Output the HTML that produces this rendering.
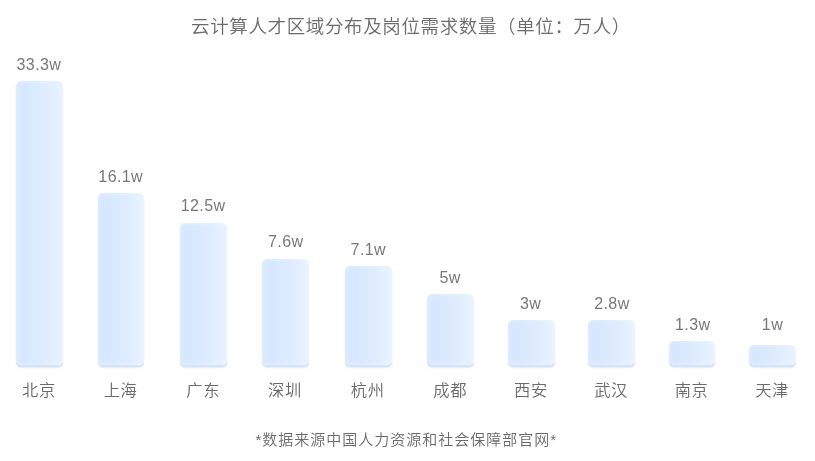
<!DOCTYPE html>
<html lang="zh-CN"><head><meta charset="utf-8"><title>云计算人才区域分布及岗位需求数量</title>
<style>
html,body{margin:0;padding:0;background:#fff;}
body{width:815px;height:461px;position:relative;overflow:hidden;font-family:"Liberation Sans","Noto Sans CJK SC",sans-serif;color:#6e6e6e;}
.title{position:absolute;left:3.5px;width:815px;top:12px;height:30px;line-height:30px;text-align:center;font-size:18.5px;letter-spacing:0.63px;font-weight:350;color:#6b6b6b;white-space:nowrap;}
.foot{position:absolute;left:-1.2px;width:815px;top:428px;height:24px;line-height:24px;text-align:center;font-size:15px;letter-spacing:1.0px;font-weight:350;color:#6b6b6b;white-space:nowrap;}
.bar{position:absolute;border-radius:5px;background:linear-gradient(90deg,#d8e8fe 0%,#d7e8fe 22%,#deecfe 60%,#e8f3ff 100%);box-shadow:inset 0 0 4px rgba(255,255,255,.42),0 2px 0 #d3e3f9,0 2.5px 1.5px rgba(195,213,242,.5);}
.val{position:absolute;width:90px;text-align:center;font-size:16px;letter-spacing:0.4px;line-height:20px;height:20px;color:#787878;white-space:nowrap;}
.lab{position:absolute;width:90px;text-align:center;font-size:16.3px;letter-spacing:0.6px;line-height:22px;height:22px;font-weight:350;color:#6a6a6a;white-space:nowrap;}
</style></head><body>
<div class="title">云计算人才区域分布及岗位需求数量（单位：万人）</div>
<div class="bar" style="left:16.2px;top:81.0px;width:46.6px;height:283.6px"></div>
<div class="val" style="left:-6.1px;top:54.9px">33.3w</div>
<div class="lab" style="left:-6.0px;top:379.0px">北京</div>
<div class="bar" style="left:97.8px;top:193.0px;width:46.6px;height:171.6px"></div>
<div class="val" style="left:75.7px;top:166.9px">16.1w</div>
<div class="lab" style="left:75.6px;top:379.0px">上海</div>
<div class="bar" style="left:180.3px;top:222.8px;width:46.8px;height:141.8px"></div>
<div class="val" style="left:158.1px;top:196.2px">12.5w</div>
<div class="lab" style="left:158.2px;top:379.0px">广东</div>
<div class="bar" style="left:262.0px;top:259.4px;width:46.8px;height:105.2px"></div>
<div class="val" style="left:240.7px;top:231.6px">7.6w</div>
<div class="lab" style="left:239.9px;top:379.0px">深圳</div>
<div class="bar" style="left:344.8px;top:266.3px;width:46.8px;height:98.3px"></div>
<div class="val" style="left:323.3px;top:239.8px">7.1w</div>
<div class="lab" style="left:322.7px;top:379.0px">杭州</div>
<div class="bar" style="left:427.3px;top:293.9px;width:46.9px;height:70.7px"></div>
<div class="val" style="left:405.2px;top:267.9px">5w</div>
<div class="lab" style="left:405.2px;top:379.0px">成都</div>
<div class="bar" style="left:507.9px;top:320.4px;width:46.9px;height:44.2px"></div>
<div class="val" style="left:485.7px;top:294.0px">3w</div>
<div class="lab" style="left:485.9px;top:379.0px">西安</div>
<div class="bar" style="left:588.1px;top:320.3px;width:46.9px;height:44.3px"></div>
<div class="val" style="left:566.9px;top:294.1px">2.8w</div>
<div class="lab" style="left:566.1px;top:379.0px">武汉</div>
<div class="bar" style="left:668.6px;top:340.8px;width:46.9px;height:23.8px"></div>
<div class="val" style="left:647.7px;top:314.7px">1.3w</div>
<div class="lab" style="left:646.6px;top:379.0px">南京</div>
<div class="bar" style="left:749.1px;top:344.6px;width:46.9px;height:20.0px"></div>
<div class="val" style="left:727.5px;top:314.8px">1w</div>
<div class="lab" style="left:727.1px;top:379.0px">天津</div>
<div class="foot">*数据来源中国人力资源和社会保障部官网*</div>
</body></html>
